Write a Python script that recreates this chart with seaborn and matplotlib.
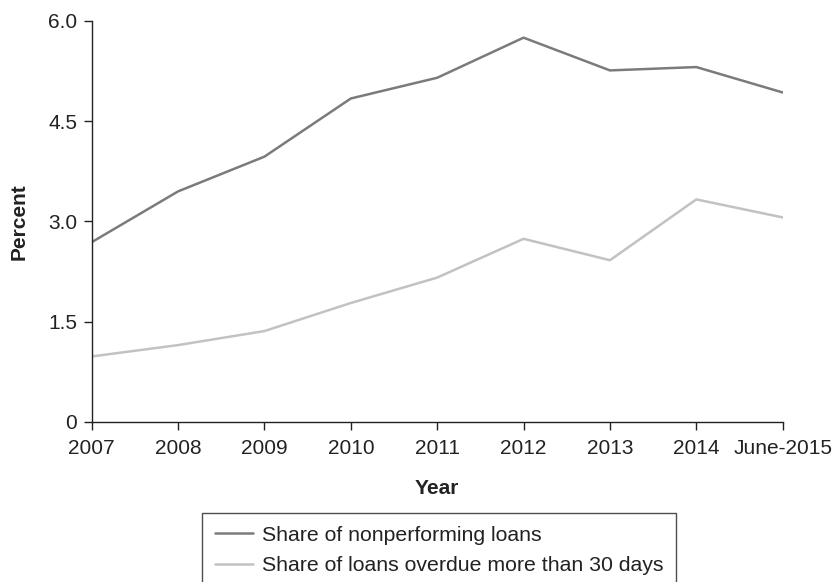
import pandas as pd
import matplotlib
matplotlib.use('Agg')
import matplotlib.pyplot as plt
import seaborn as sns

# Data
tahun = ['2007', '2008', '2009', '2010', '2011', '2012', '2013', '2014', 'June-2015']
npl = [2.69, 3.45, 3.97, 4.84, 5.15, 5.75, 5.26, 5.31, 4.93]
overdue = [0.98, 1.15, 1.36, 1.78, 2.16, 2.74, 2.42, 3.33, 3.06]
nama_seri = ['Share of nonperforming loans', 'Share of loans overdue more than 30 days']
y_ticks = [0, 1.5, 3.0, 4.5, 6.0]
y_tick_labels = ['0', '1.5', '3.0', '4.5', '6.0']

df = pd.DataFrame({
    'Year': tahun * 2,
    'Percent': npl + overdue,
    'seri': [nama_seri[0]] * len(tahun) + [nama_seri[1]] * len(tahun),
})
df['pos'] = list(range(len(tahun))) * 2

sns.set_style('ticks')
plt.rcParams['font.family'] = ['Liberation Sans', 'DejaVu Sans']

fig = plt.figure(figsize=(8.37, 5.82), dpi=100)
ax = fig.add_axes([0.1096, 0.275, 0.8255, 0.689])

sns.lineplot(data=df, x='pos', y='Percent', hue='seri', hue_order=nama_seri,
             palette=['#7b7b7b', '#c2c2c2'], linewidth=1.8, ax=ax, legend=False)

ax.set_xlim(0, len(tahun) - 1)
ax.set_ylim(0, 6.0)
ax.set_xticks(range(len(tahun)))
ax.set_xticklabels(tahun)
ax.set_yticks(y_ticks)
ax.set_yticklabels(y_tick_labels)
ax.tick_params(axis='both', labelsize=15, length=5.5, width=1, color='#222222',
               labelcolor='#222222')
ax.tick_params(axis='x', pad=7)
ax.tick_params(axis='y', pad=5)
for s in ['top', 'right']:
    ax.spines[s].set_visible(False)
for s in ['left', 'bottom']:
    ax.spines[s].set_color('#222222')
    ax.spines[s].set_linewidth(1)

ax.set_xlabel('Year', fontsize=15, fontweight='bold', labelpad=15, color='#222222')
ax.set_ylabel('Percent', fontsize=15, fontweight='bold', labelpad=14, color='#222222')

# legend di bawah, terpotong tepi gambar
handles = [plt.Line2D([], [], color='#7b7b7b', lw=1.8),
           plt.Line2D([], [], color='#c2c2c2', lw=1.8)]
leg = fig.legend(handles, nama_seri, loc='upper left',
                 bbox_to_anchor=(202 / 837, 1 - 513 / 582),
                 bbox_transform=fig.transFigure, fontsize=15.3, frameon=True,
                 fancybox=False, edgecolor='#222222', handlelength=1.8,
                 handletextpad=0.4, labelspacing=0.55, borderpad=0.6,
                 borderaxespad=0)
leg.get_frame().set_linewidth(1)
for t in leg.get_texts():
    t.set_color('#222222')

fig.savefig('out.png', dpi=100)
